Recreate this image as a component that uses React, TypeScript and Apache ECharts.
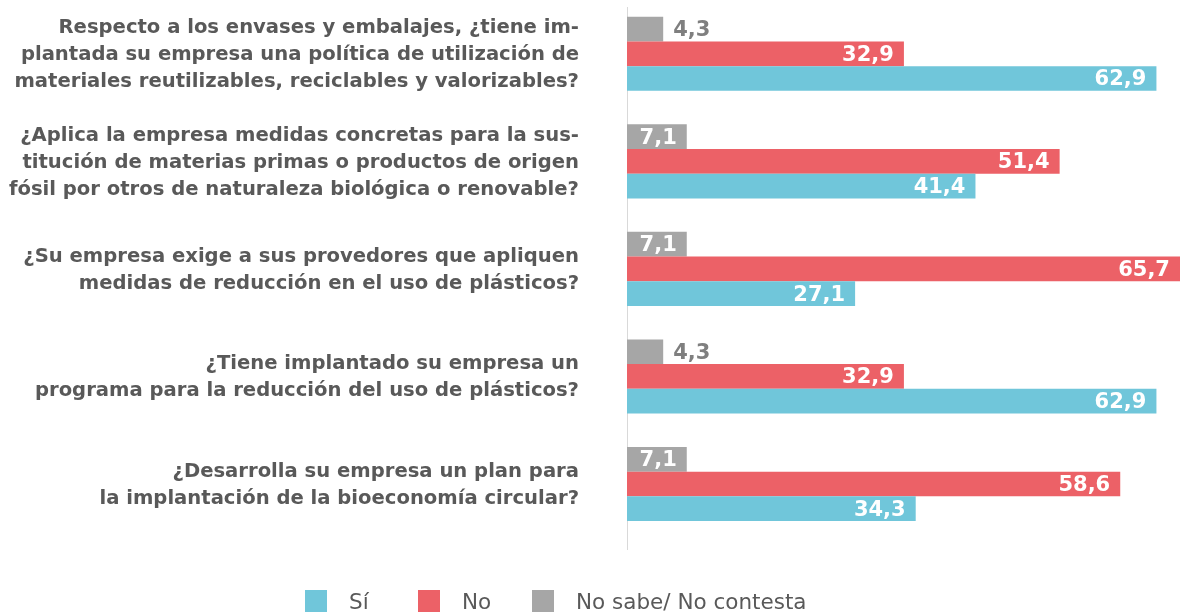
import React, { useEffect, useRef } from "react";
import * as echarts from "echarts";

const categories = [
  "Respecto a los envases y embalajes, ¿tiene im-\nplantada su empresa una política de utilización de\nmateriales reutilizables, reciclables y valorizables?",
  "¿Aplica la empresa medidas concretas para la sus-\ntitución de materias primas o productos de origen\nfósil por otros de naturaleza biológica o renovable?",
  "¿Su empresa exige a sus provedores que apliquen\nmedidas de reducción en el uso de plásticos?",
  "¿Tiene implantado su empresa un\nprograma para la reducción del uso de plásticos?",
  "¿Desarrolla su empresa un plan para\nla implantación de la bioeconomía circular?",
];
const seriesNames = ["Sí", "No", "No sabe/ No contesta"];
const siValues = [62.9, 41.4, 27.1, 62.9, 34.3];
const noValues = [32.9, 51.4, 65.7, 32.9, 58.6];
const nsncValues = [4.3, 7.1, 7.1, 4.3, 7.1];
const colors = ["#70C6DA", "#EC6167", "#A6A6A6"];

const FONT = "DejaVu Sans";
const fmt = (v: number) => v.toFixed(1).replace(".", ",");

export default function App() {
  const ref = useRef<HTMLDivElement>(null);
  useEffect(() => {
    document.body.style.margin = "0";
    if (!ref.current) return;
    const chart = echarts.init(ref.current, undefined, { renderer: "svg" });
    // bottom-to-top order for the category axis
    const cats = [...categories].reverse();
    const rev = (a: number[]) => [...a].reverse();
    const baseLabel = {
      show: true,
      position: "insideRight",
      distance: 10,
      color: "#FFFFFF",
      fontFamily: FONT,
      fontWeight: "bold",
      fontSize: 21,
      formatter: (p: any) => fmt(p.value),
    };
    const nsncData = rev(nsncValues).map((v) =>
      v < 5
        ? { value: v, label: { position: "right", color: "#7F7F7F" } }
        : { value: v }
    );
    const mkLegend = (name: string, left: number) => ({
      data: [name],
      left,
      top: 590,
      padding: 0,
      itemWidth: 22,
      itemHeight: 22,
      icon: "rect",
      textStyle: {
        fontFamily: FONT,
        fontSize: 21.5,
        color: "#595959",
        padding: [0, 0, 0, 17],
      },
      selectedMode: false,
    });
    chart.setOption({
      animation: false,
      grid: { left: 627, right: 0, top: -5.3, bottom: 75.2, containLabel: false },
      legend: [mkLegend("Sí", 305), mkLegend("No", 418), mkLegend("No sabe/ No contesta", 532)],
      xAxis: {
        type: "value",
        min: 0,
        max: 65.7,
        show: false,
      },
      yAxis: {
        type: "category",
        data: cats,
        axisLine: { show: false },
        axisTick: { show: false },
        axisLabel: {
          fontFamily: FONT,
          fontWeight: "bold",
          fontSize: 19.6,
          lineHeight: 27,
          color: "#595959",
          align: "right",
          margin: 48,
        },
      },
      graphic: [
        {
          type: "line",
          shape: { x1: 627.5, y1: 7, x2: 627.5, y2: 550 },
          style: { stroke: "#D9D9D9", lineWidth: 1 },
          silent: true,
        },
      ],
      series: [
        {
          name: seriesNames[2],
          type: "bar",
          data: nsncData,
          itemStyle: { color: colors[2] },
          barWidth: 24.7,
          barGap: "0%",
          label: baseLabel,
        },
        {
          name: seriesNames[1],
          type: "bar",
          data: rev(noValues),
          itemStyle: { color: colors[1] },
          barWidth: 24.7,
          barGap: "0%",
          label: baseLabel,
        },
        {
          name: seriesNames[0],
          type: "bar",
          data: rev(siValues),
          itemStyle: { color: colors[0] },
          barWidth: 24.7,
          barGap: "0%",
          label: baseLabel,
        },
      ],
    });
    return () => chart.dispose();
  }, []);
  return (
    <div
      ref={ref}
      style={{ position: "fixed", left: 0, top: 0, width: 1180, height: 613 }}
    />
  );
}
